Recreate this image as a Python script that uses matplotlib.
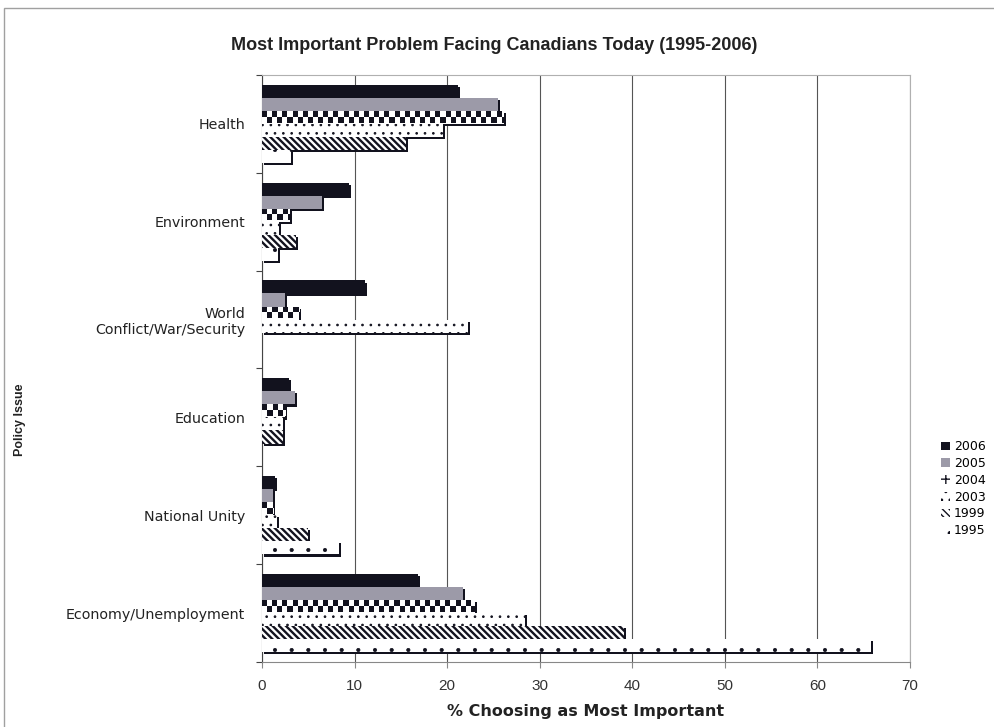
import matplotlib
matplotlib.use("Agg")
import matplotlib.pyplot as plt
import numpy as np
from matplotlib.colors import ListedColormap
from matplotlib.patches import Patch, Rectangle

# ---- data ----
ISSUES = ["Health", "Environment", "World\nConflict/War/Security",
          "Education", "National Unity", "Economy/Unemployment"]
YEARS = ["2006", "2005", "2004", "2003", "1999", "1995"]

v2006 = [21.2, 9.4, 11.1, 2.9, 1.4, 16.9]
v2005 = [25.5, 6.5, 2.5, 3.6, 1.2, 21.7]
v2004 = [26.1, 3.0, 4.0, 2.5, 1.2, 23.0]
v2003 = [19.6, 1.8, 22.3, 2.3, 1.6, 28.4]
v1999 = [15.6, 3.7, 0.0, 2.3, 5.0, 39.1]
v1995 = [3.1, 1.7, 0.0, 0.0, 8.3, 65.8]
SERIES = [v2006, v2005, v2004, v2003, v1999, v1995]

BLACK = "#12121e"
GRAY = "#9c9aa8"
# fill, hatch, hatch line width
STYLES = [
    dict(fc=BLACK, hatch=None, hlw=1.0),
    dict(fc=GRAY, hatch=None, hlw=1.0),
    dict(fc="white", hatch="checker", hlw=1.0),
    dict(fc="white", hatch="..", hlw=0.7),
    dict(fc="white", hatch="\\\\\\\\\\", hlw=1.7),
    dict(fc="white", hatch=".", hlw=0.5),
]

plt.rcParams["hatch.color"] = BLACK

fig = plt.figure(figsize=(9.95, 7.27), dpi=100)
ax = fig.add_axes([262 / 995, 1 - 662 / 727, 648 / 995, 587 / 727])

n_cat = len(ISSUES)
ycat = np.arange(n_cat)[::-1].astype(float)
w = 0.8 / len(YEARS)
dx, dy = 0.22, 0.022


def add_checker(bar, cell=0.55, nrows=2):
    x0, y0 = bar.get_x(), bar.get_y()
    wd, ht = bar.get_width(), bar.get_height()
    if wd <= 0:
        return
    ncols = int(np.ceil(wd / cell))
    grid = np.add.outer(np.arange(nrows), np.arange(ncols)) % 2
    im = ax.imshow(grid, cmap=ListedColormap(["white", BLACK]),
                   extent=[x0, x0 + ncols * cell, y0 + ht * 0.1, y0 + ht],
                   aspect="auto", interpolation="nearest", origin="lower",
                   zorder=bar.get_zorder() + 0.1)
    im.set_clip_path(bar)


for j, (vals, st) in enumerate(zip(SERIES, STYLES)):
    y = ycat + (2.5 - j) * w
    z = 3 + j
    # drop shadow (right/bottom dark edge as in the original)
    ax.barh(y - dy, vals, height=w, left=dx, color=BLACK, lw=0, zorder=z)
    hatch = st["hatch"] if st["hatch"] not in (None, "checker") else None
    with plt.rc_context({"hatch.linewidth": st["hlw"]}):
        bars = ax.barh(y, vals, height=w, color=st["fc"], hatch=hatch,
                       edgecolor=BLACK, lw=0, zorder=z + 0.5)
    for b in bars:
        if hasattr(b, "set_hatch_linewidth"):
            b.set_hatch_linewidth(st["hlw"])
    if st["hatch"] == "checker":
        for b in bars:
            add_checker(b)

ax.set_xlim(0, 70)
ax.set_ylim(-0.5, n_cat - 0.5)
ax.set_xticks(np.arange(0, 71, 10))
ax.set_xticklabels([str(t) for t in range(0, 71, 10)],
                   fontfamily="Liberation Sans", fontsize=11, color="#333")
ax.xaxis.grid(True, color="#555", lw=0.8, zorder=1)
ax.set_axisbelow(True)

ax.set_yticks(np.arange(n_cat + 1) - 0.5)
ax.set_yticklabels([])
ax.set_yticks(ycat, minor=True)
ax.set_yticklabels(ISSUES, minor=True, fontfamily="DejaVu Sans",
                   fontsize=10.3, color="#222", multialignment="right")
ax.tick_params(axis="y", which="minor", length=0, pad=12)
ax.tick_params(axis="y", which="major", length=4, color="#444")
ax.tick_params(axis="x", length=4, color="#888", pad=8)

for s in ("top", "right"):
    ax.spines[s].set_color("#b0b0b0")
ax.spines["left"].set_color("#444")
ax.spines["bottom"].set_color("#888")

ax.set_xlabel("% Choosing as Most Important", fontfamily="DejaVu Sans",
              fontweight="bold", fontsize=11.5, color="#222", labelpad=8)

fig.text(0.497, 1 - 45 / 727,
         "Most Important Problem Facing Canadians Today (1995-2006)",
         ha="center", va="center", fontfamily="Liberation Sans",
         fontweight="bold", fontsize=13, color="#222")
fig.text(20 / 995, 1 - 420 / 727, "Policy Issue", rotation=90,
         ha="center", va="center", fontfamily="Liberation Sans",
         fontweight="bold", fontsize=9, color="#222")

# legend tucked against the right edge
handles = []
for yr, st in zip(YEARS, STYLES):
    h = st["hatch"]
    if h == "checker":
        h = "++"
    handles.append(Patch(facecolor=st["fc"], edgecolor=BLACK, hatch=h, lw=0,
                         label=yr))
fig.legend(handles=handles, loc="upper left",
           bbox_to_anchor=(935 / 995, 1 - 434 / 727), frameon=False,
           handlelength=0.7, handleheight=0.7,
           handletextpad=0.3, labelspacing=0.3, borderpad=0,
           prop={"family": "DejaVu Sans", "size": 9.0})

# outer chart frame
fig.add_artist(Rectangle((4 / 995, -0.1), 1.2, 1 - 8 / 727 + 0.1,
                         transform=fig.transFigure, fill=False,
                         ec="#a0a0a0", lw=1))

fig.savefig("out.png", dpi=100)
